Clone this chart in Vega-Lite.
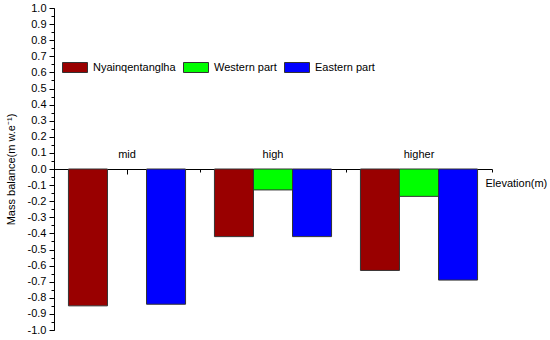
{
  "$schema": "https://vega.github.io/schema/vega-lite/v6.json",
  "autosize": "none",
  "width": 438,
  "height": 322,
  "padding": {"left": 54, "top": 8, "right": 58, "bottom": 10},
  "background": "white",
  "config": {
    "font": "Liberation Sans",
    "view": {"stroke": null},
    "axis": {
      "labelFontSize": 11,
      "labelColor": "#000000",
      "titleFontSize": 11,
      "titleFontWeight": "normal",
      "titleColor": "#000000",
      "domainColor": "#000000",
      "tickColor": "#000000",
      "grid": false,
      "zindex": 1
    },
    "legend": {"labelFontSize": 11, "labelColor": "#000000"}
  },
  "data": {
    "values": [
      {"elevation": "mid", "region": "Nyainqentanglha", "balance": -0.85},
      {"elevation": "mid", "region": "Eastern part", "balance": -0.84},
      {"elevation": "high", "region": "Nyainqentanglha", "balance": -0.42},
      {"elevation": "high", "region": "Western part", "balance": -0.13},
      {"elevation": "high", "region": "Eastern part", "balance": -0.42},
      {"elevation": "higher", "region": "Nyainqentanglha", "balance": -0.63},
      {"elevation": "higher", "region": "Western part", "balance": -0.17},
      {"elevation": "higher", "region": "Eastern part", "balance": -0.69}
    ]
  },
  "layer": [
    {
      "mark": {"type": "bar", "stroke": "#333333", "strokeWidth": 1},
      "encoding": {
        "x": {
          "field": "elevation",
          "type": "nominal",
          "sort": ["mid", "high", "higher"],
          "scale": {"domain": ["mid", "high", "higher"], "paddingInner": 0, "paddingOuter": 0},
          "axis": {
            "orient": "top",
            "offset": -161,
            "tickSize": -5,
            "labelPadding": 15,
            "labelAngle": 0,
            "title": "Elevation(m)",
            "titleX": 431,
            "titleY": 14,
            "titleAlign": "left",
            "titleBaseline": "middle",
            "titleAngle": 0
          }
        },
        "xOffset": {
          "field": "region",
          "type": "nominal",
          "scale": {"domain": ["Nyainqentanglha", "Western part", "Eastern part"], "paddingInner": 0, "paddingOuter": 0.37}
        },
        "y": {
          "field": "balance",
          "type": "quantitative",
          "scale": {"domain": [-1, 1], "nice": false, "zero": false},
          "axis": {
            "tickCount": 20,
            "tickSize": 5,
            "labelPadding": 3,
            "labelExpr": "replace(format(datum.value, '.1f'), '−', '-')",
            "title": "Mass balance(m w.e⁻¹)",
            "titleX": -43,
            "titleBaseline": "middle"
          }
        },
        "color": {
          "field": "region",
          "type": "nominal",
          "scale": {
            "domain": ["Nyainqentanglha", "Western part", "Eastern part"],
            "range": ["#990000", "#00ff00", "#0000ff"]
          },
          "legend": {
            "title": null,
            "orient": "none",
            "direction": "horizontal",
            "legendX": 8,
            "legendY": 46.5,
            "padding": 0,
            "symbolType": "M-1,-0.4H1V0.4H-1Z",
            "symbolSize": 625,
            "symbolStrokeColor": "#333333",
            "symbolStrokeWidth": 1,
            "symbolOpacity": 1,
            "labelOffset": 5,
            "columnPadding": 5
          }
        }
      }
    },
    {
      "mark": {"type": "tick", "opacity": 0},
      "encoding": {
        "x": {
          "field": "elevation",
          "type": "nominal",
          "sort": ["mid", "high", "higher"],
          "axis": {
            "orient": "top",
            "offset": -161,
            "tickBand": "extent",
            "tickSize": -3,
            "labels": false,
            "domain": false,
            "title": null
          }
        },
        "y": {
          "field": "balance",
          "type": "quantitative",
          "axis": {
            "orient": "left",
            "tickCount": 40,
            "tickSize": 3,
            "labels": false,
            "domain": false,
            "title": null
          }
        }
      }
    }
  ],
  "resolve": {"axis": {"x": "independent", "y": "independent"}}
}
